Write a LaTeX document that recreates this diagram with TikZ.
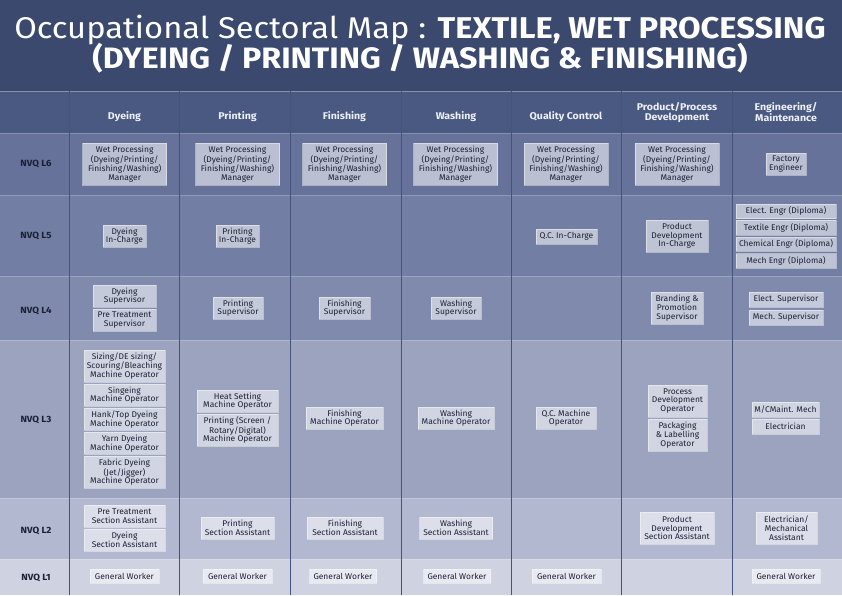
\documentclass[tikz,border=0pt]{standalone}
\usepackage{fontspec}
\setmainfont{Fira Sans}
\newfontfamily\bxff[FakeStretch=1.02]{Fira Sans}
\newfontfamily\hdff[FakeStretch=1.08]{Fira Sans}
\newfontfamily\ttlff[FakeStretch=1.09]{Fira Sans}
\definecolor{titlebg}{HTML}{3A496D}
\definecolor{headbg}{HTML}{4A5981}
\definecolor{rowsix}{HTML}{66729A}
\definecolor{rowfive}{HTML}{727EA3}
\definecolor{rowfour}{HTML}{808AAD}
\definecolor{rowthree}{HTML}{9BA3BF}
\definecolor{rowtwo}{HTML}{B2B8CF}
\definecolor{rowone}{HTML}{CED2E1}
\definecolor{vline}{HTML}{46547C}
\definecolor{txt}{HTML}{1B2036}
\definecolor{headtxt}{HTML}{EEF0F7}
\newcommand\bxfont{\bxff\fontsize{8.3}{8.7}\selectfont}
\tikzset{
  bx/.style 2 args={draw=white, draw opacity=0.45, line width=0.8pt,
    fill=white, fill opacity=0.55, text opacity=1, text=txt,
    minimum width=#1pt, minimum height=#2pt, inner sep=0pt,
    align=center, font=\bxfont},
  headlbl/.style={text=headtxt, font=\hdff\fontsize{9.8}{9.4}\selectfont\bfseries, align=center, inner sep=0pt},
  nvq/.style={text=txt, font=\hdff\fontsize{9}{10}\selectfont\bfseries, inner sep=0pt},
  rowsep/.style={draw=white, draw opacity=0.22, line width=0.8pt},
  colsep/.style={draw=vline, line width=0.9pt}
}
\begin{document}
\begin{tikzpicture}[x=1pt,y=-1pt]
\useasboundingbox (0,0) rectangle (842,595);
% backgrounds
\fill[titlebg] (0,0) rectangle (842,91);
\fill[headbg] (0,91) rectangle (842,133);
\fill[rowsix] (0,133) rectangle (842,195);
\fill[rowfive] (0,195) rectangle (842,276);
\fill[rowfour] (0,276) rectangle (842,340);
\fill[rowthree] (0,340) rectangle (842,498);
\fill[rowtwo] (0,498) rectangle (842,559);
\fill[rowone] (0,559) rectangle (842,595);
% row separators
\draw[draw=white, draw opacity=0.35, line width=1pt] (0,91) -- (842,91);
\foreach \yy in {133,195,276,340,498,559} \draw[rowsep] (0,\yy) -- (842,\yy);
% column separators
\foreach \xx in {69,179,290,401,511,621,732} \draw[colsep] (\xx,91) -- (\xx,595);
% title
\node[anchor=base, text=white, inner sep=0pt, font=\ttlff\fontsize{30}{31}\selectfont] (title1) at (420,38)
  {Occupational Sectoral Map : \textbf{TEXTILE, WET PROCESSING}};
\node[anchor=base, text=white, inner sep=0pt, font=\ttlff\fontsize{29.5}{31}\selectfont\bfseries] (title2) at (420,68.5)
  {(DYEING / PRINTING / WASHING \& FINISHING)};
% header labels
\node[headlbl] (hdye) at (124.5,117) {Dyeing};
\node[headlbl] (hprint) at (237.5,117) {Printing};
\node[headlbl] (hfin) at (344.5,117) {Finishing};
\node[headlbl] (hwash) at (456,117) {Washing};
\node[headlbl] (hqc) at (566,117) {Quality Control};
\node[headlbl] (hpd) at (677,112.5) {Product/Process\\Development};
\node[headlbl] (heng) at (786,112.5) {Engineering/\\Maintenance};
% NVQ labels
\node[nvq] (nsix) at (36,164) {NVQ L6};
\node[nvq] (nfive) at (36,236) {NVQ L5};
\node[nvq] (nfour) at (36,311) {NVQ L4};
\node[nvq] (nthree) at (36,420) {NVQ L3};
\node[nvq] (ntwo) at (36,531) {NVQ L2};
\node[nvq] (none) at (36,578) {NVQ L1};
% L6
\node[bx={84}{42}] (sixdye) at (124.7,164) {Wet Processing\\(Dyeing/Printing/\\Finishing/Washing)\\Manager};
\node[bx={84}{42}] (sixprint) at (237.5,164) {Wet Processing\\(Dyeing/Printing/\\Finishing/Washing)\\Manager};
\node[bx={84}{42}] (sixfin) at (344.5,164) {Wet Processing\\(Dyeing/Printing/\\Finishing/Washing)\\Manager};
\node[bx={84}{42}] (sixwash) at (455.5,164) {Wet Processing\\(Dyeing/Printing/\\Finishing/Washing)\\Manager};
\node[bx={84}{42}] (sixqc) at (566,164) {Wet Processing\\(Dyeing/Printing/\\Finishing/Washing)\\Manager};
\node[bx={84}{42}] (sixpd) at (677,164) {Wet Processing\\(Dyeing/Printing/\\Finishing/Washing)\\Manager};
\node[bx={40}{22}] (sixeng) at (786,164) {Factory\\Engineer};
% L5
\node[bx={43}{22}] (fivedye) at (124.5,236) {Dyeing\\In-Charge};
\node[bx={43}{22}] (fiveprint) at (237.5,236) {Printing\\In-Charge};
\node[bx={61}{15}] (fiveqc) at (566.5,236.5) {Q.C. In-Charge};
\node[bx={62}{32}] (fivepd) at (677,236) {Product\\Development\\In-Charge};
\node[bx={100}{14.5}] (fiveenga) at (786,211.3) {Elect. Engr (Diploma)};
\node[bx={100}{14.5}] (fiveengb) at (786,227.7) {Textile Engr (Diploma)};
\node[bx={100}{14.5}] (fiveengc) at (786,244.2) {Chemical Engr (Diploma)};
\node[bx={100}{14.5}] (fiveengd) at (786,260.8) {Mech Engr (Diploma)};
% L4
\node[bx={63}{22}] (fourdyea) at (124.5,296) {Dyeing\\Supervisor};
\node[bx={63}{22}] (fourdyeb) at (124.5,320) {Pre Treatment\\Supervisor};
\node[bx={50}{22}] (fourprint) at (238,308) {Printing\\Supervisor};
\node[bx={51}{22}] (fourfin) at (344.5,308) {Finishing\\Supervisor};
\node[bx={50}{22}] (fourwash) at (456,308) {Washing\\Supervisor};
\node[bx={52}{32}] (fourpd) at (677,308) {Branding \&\\Promotion\\Supervisor};
\node[bx={74}{15}] (fourenga) at (786,299.5) {Elect. Supervisor};
\node[bx={74}{15}] (fourengb) at (786,317.5) {Mech. Supervisor};
% L3
\node[bx={81}{32}] (threedyea) at (124.5,366) {Sizing/DE sizing/\\Scouring/Bleaching\\Machine Operator};
\node[bx={81}{22}] (threedyeb) at (124.5,395) {Singeing\\Machine Operator};
\node[bx={81}{22}] (threedyec) at (124.5,419.3) {Hank/Top Dyeing\\Machine Operator};
\node[bx={81}{22}] (threedyed) at (124.5,443.3) {Yarn Dyeing\\Machine Operator};
\node[bx={81}{32}] (threedyee) at (124.5,472.3) {Fabric Dyeing\\(Jet/Jigger)\\Machine Operator};
\node[bx={81}{22}] (threeprinta) at (237.5,401) {Heat Setting\\Machine Operator};
\node[bx={81}{32}] (threeprintb) at (237.5,430) {Printing (Screen /\\Rotary/Digital)\\Machine Operator};
\node[bx={77}{22}] (threefin) at (344.5,418) {Finishing\\Machine Operator};
\node[bx={76}{22}] (threewash) at (456,418) {Washing\\Machine Operator};
\node[bx={60}{22}] (threeqc) at (566,418) {Q.C. Machine\\Operator};
\node[bx={59}{32}] (threepda) at (677.5,401) {Process\\Development\\Operator};
\node[bx={59}{32}] (threepdb) at (677.5,435) {Packaging\\\& Labelling\\Operator};
\node[bx={67}{15}] (threeenga) at (785.5,409.5) {M/CMaint. Mech};
\node[bx={67}{15}] (threeengb) at (785.5,426.5) {Electrician};
% L2
\node[bx={81}{22}] (twodyea) at (124.5,516) {Pre Treatment\\Section Assistant};
\node[bx={81}{22}] (twodyeb) at (124.5,540) {Dyeing\\Section Assistant};
\node[bx={73}{22}] (twoprint) at (237.5,528) {Printing\\Section Assistant};
\node[bx={76}{22}] (twofin) at (345,528) {Finishing\\Section Assistant};
\node[bx={73}{22}] (twowash) at (456,528) {Washing\\Section Assistant};
\node[bx={74}{32}] (twopd) at (677,528) {Product\\Development\\Section Assistant};
\node[bx={61}{32}] (twoeng) at (786.5,528) {Electrician/\\Mechanical\\Assistant};
% L1
\node[bx={69}{14}] (onedye) at (124.5,576) {General Worker};
\node[bx={69}{14}] (oneprint) at (237.5,576) {General Worker};
\node[bx={67}{14}] (onefin) at (343,576) {General Worker};
\node[bx={67}{14}] (onewash) at (457,576) {General Worker};
\node[bx={69}{14}] (oneqc) at (566.5,576) {General Worker};
\node[bx={68}{14}] (oneeng) at (786,576) {General Worker};
\end{tikzpicture}
\end{document}
